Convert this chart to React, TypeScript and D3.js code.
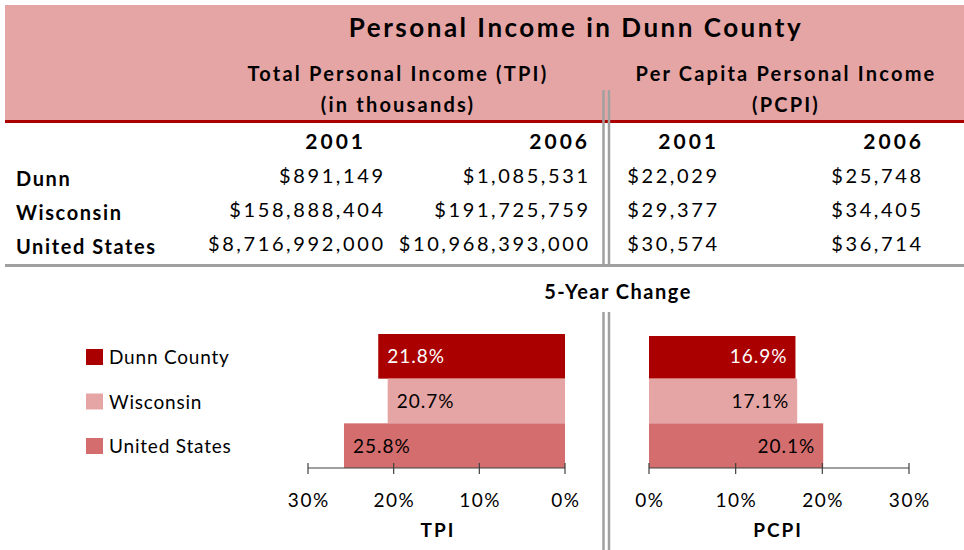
import React from "react";
import * as d3 from "d3";

const regions = ["Dunn", "Wisconsin", "United States"];
const legendLabels = ["Dunn County", "Wisconsin", "United States"];
const years = ["2001", "2006"];
const tpi2001 = [891149, 158888404, 8716992000];
const tpi2006 = [1085531, 191725759, 10968393000];
const pcpi2001 = [22029, 29377, 30574];
const pcpi2006 = [25748, 34405, 36714];
const tpiChange = [21.8, 20.7, 25.8];
const pcpiChange = [16.9, 17.1, 20.1];
const tickValues = [0, 10, 20, 30];

const colors = ["#AA0000", "#E6A5A5", "#D46E6E"];
const labelColors = ["#FFFFFF", "#000000", "#000000"];
const FONT = "Lato, 'Open Sans', sans-serif";

export default function App() {
  const W = 964, H = 550;
  const money = d3.format("$,");
  const pct = (v: number) => `${v.toFixed(1)}%`;

  const yBand = d3.scaleBand<number>().domain([0, 1, 2]).range([334, 468]).padding(0);
  const xT = d3.scaleLinear().domain([0, 30]).range([565, 308]);
  const xP = d3.scaleLinear().domain([0, 30]).range([649, 909]);
  const axisY = 468;

  const rowY = d3.scalePoint<number>().domain([0, 1, 2]).range([177, 245]);
  const cols = [
    { x: 383, vals: tpi2001 },
    { x: 588, vals: tpi2006 },
    { x: 717, vals: pcpi2001 },
    { x: 921, vals: pcpi2006 },
  ];
  const hdrX = [363, 587, 716, 921];

  const legY = d3.scalePoint<number>().domain([0, 1, 2]).range([357, 446]);
  const vs = 2.6; // value letter spacing
  const hs = 3; // header year spacing

  return (
    <svg width={W} height={H} style={{ position: "fixed", left: 0, top: 0 }} fontFamily={FONT}>
      <rect x={0} y={0} width={W} height={H} fill="#fff" />
      {/* header band */}
      <rect x={5} y={5} width={W - 5} height={116} fill="#E6A5A5" />
      <rect x={5} y={120} width={W - 5} height={3} fill="#AA0000" />
      <text x={576} y={37} textAnchor="middle" fontSize={26} fontWeight="bold" letterSpacing={2.5}>Personal Income in Dunn County</text>
      <text x={398} y={81} textAnchor="middle" fontSize={20} fontWeight="bold" letterSpacing={2.2}>Total Personal Income (TPI)</text>
      <text x={398} y={112} textAnchor="middle" fontSize={20} fontWeight="bold" letterSpacing={2.2}>(in thousands)</text>
      <text x={786} y={81} textAnchor="middle" fontSize={20} fontWeight="bold" letterSpacing={2.2}>Per Capita Personal Income</text>
      <text x={786} y={112} textAnchor="middle" fontSize={20} fontWeight="bold" letterSpacing={2.2}>(PCPI)</text>

      {/* double vertical separators */}
      {[603.5, 609].map((x) => (
        <g key={x}>
          <line x1={x} x2={x} y1={90} y2={265} stroke="#A0A0A0" strokeWidth={2.5} />
          <line x1={x} x2={x} y1={312} y2={550} stroke="#A0A0A0" strokeWidth={2.5} />
        </g>
      ))}
      <rect x={5} y={264} width={W - 5} height={3} fill="#A0A0A0" />

      {/* table */}
      {years.concat(years).map((yr, i) => (
        <text key={i} x={hdrX[i] + hs} y={149} textAnchor="end" fontSize={21} fontWeight="bold" letterSpacing={hs}>{yr}</text>
      ))}
      {regions.map((r, i) => (
        <text key={r} x={16} y={rowY(i)! + 9} fontSize={20} fontWeight="bold" letterSpacing={1.6}>{r}</text>
      ))}
      {cols.map((c, ci) =>
        c.vals.map((v, i) => (
          <text key={`${ci}-${i}`} x={c.x + vs} y={rowY(i)! + 6} textAnchor="end" fontSize={20} letterSpacing={vs}>{money(v)}</text>
        ))
      )}

      {/* chart title */}
      <text x={618} y={299} textAnchor="middle" fontSize={20} fontWeight="bold" letterSpacing={1.5}>5-Year Change</text>

      {/* legend */}
      {legendLabels.map((l, i) => (
        <g key={l}>
          <rect x={86} y={legY(i)! - 8} width={17} height={16} fill={colors[i]} />
          <text x={109} y={legY(i)! + 7} fontSize={19} letterSpacing={0.8}>{l}</text>
        </g>
      ))}

      {/* TPI bars */}
      {tpiChange.map((v, i) => (
        <g key={`t${i}`}>
          <rect x={xT(v)} y={yBand(i)!} width={xT(0) - xT(v)} height={yBand.bandwidth()} fill={colors[i]} />
          <text x={xT(v) + 9} y={yBand(i)! + yBand.bandwidth() / 2 + 7} fontSize={19} letterSpacing={1} fill={labelColors[i]}>{pct(v)}</text>
        </g>
      ))}
      {/* PCPI bars */}
      {pcpiChange.map((v, i) => (
        <g key={`p${i}`}>
          <rect x={xP(0)} y={yBand(i)! + (i === 0 ? 2 : 0)} width={xP(v) - xP(0)} height={yBand.bandwidth() - (i === 0 ? 2 : 0)} fill={colors[i]} />
          <text x={xP(v) - 9 + 1} y={yBand(i)! + yBand.bandwidth() / 2 + 7} textAnchor="end" fontSize={19} letterSpacing={1} fill={labelColors[i]}>{pct(v)}</text>
        </g>
      ))}

      {/* axes */}
      {[xT, xP].map((sc, ai) => (
        <g key={ai}>
          <line x1={sc(0)} x2={sc(30)} y1={axisY} y2={axisY} stroke="#404040" strokeWidth={1.2} />
          {tickValues.map((t) => (
            <g key={t}>
              <line x1={sc(t)} x2={sc(t)} y1={axisY - 5} y2={axisY + 6} stroke="#404040" strokeWidth={1.2} />
              <text x={sc(t) + 0.75} y={507} textAnchor="middle" fontSize={19} letterSpacing={1.5}>{`${t}%`}</text>
            </g>
          ))}
        </g>
      ))}
      <text x={438} y={537} textAnchor="middle" fontSize={19} fontWeight="bold" letterSpacing={2}>TPI</text>
      <text x={778} y={537} textAnchor="middle" fontSize={19} fontWeight="bold" letterSpacing={2}>PCPI</text>
    </svg>
  );
}
